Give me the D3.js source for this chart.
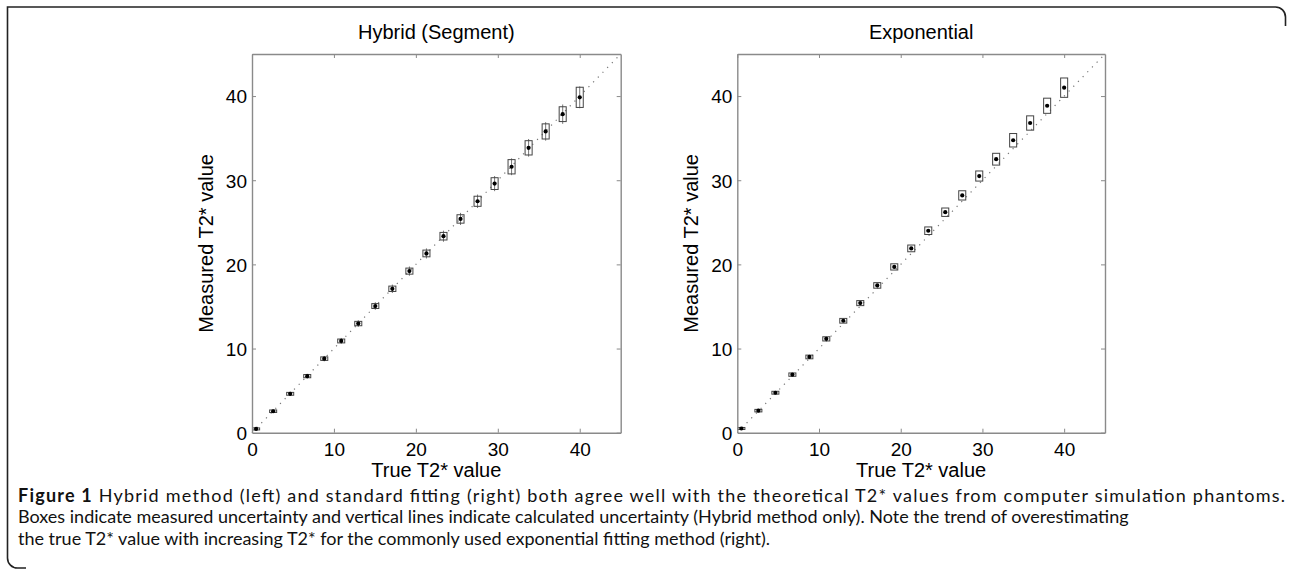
<!DOCTYPE html>
<html>
<head>
<meta charset="utf-8">
<script src="https://cdn.jsdelivr.net/npm/d3@7"></script>
<style>
  html, body { margin: 0; padding: 0; background: #fff; }
  svg { display: block; }
</style>
</head>
<body>
<svg id="chart" width="1292" height="574"></svg>
<script>
// ---- data ----
const trueT2 = [0.5, 2.58, 4.66, 6.74, 8.82, 10.89, 12.97, 15.05, 17.13, 19.21, 21.29, 23.37, 25.45, 27.53, 29.61, 31.68, 33.76, 35.84, 37.92, 40.0];
const hybridMeasured = [0.45, 2.55, 4.62, 6.72, 8.8, 10.9, 12.97, 15.05, 17.1, 19.2, 21.3, 23.35, 25.4, 27.5, 29.6, 31.6, 33.85, 35.8, 37.85, 39.85];
const hybridBoxHalf = [0.12, 0.15, 0.17, 0.19, 0.21, 0.23, 0.26, 0.29, 0.32, 0.36, 0.4, 0.45, 0.5, 0.6, 0.7, 0.85, 0.85, 0.9, 0.88, 1.2];
const hybridCalcHalf = [0.2, 0.22, 0.25, 0.28, 0.32, 0.36, 0.4, 0.45, 0.5, 0.55, 0.6, 0.66, 0.72, 0.8, 0.9, 1.0, 1.05, 1.1, 1.15, 1.3];
const expMeasured = [0.5, 2.62, 4.75, 6.9, 9.0, 11.15, 13.3, 15.4, 17.5, 19.7, 21.9, 24.0, 26.2, 28.2, 30.5, 32.5, 34.75, 36.8, 38.85, 41.0];
const expBoxHalf = [0.12, 0.15, 0.17, 0.2, 0.22, 0.25, 0.28, 0.3, 0.33, 0.37, 0.4, 0.45, 0.5, 0.55, 0.6, 0.7, 0.8, 0.85, 0.9, 1.15];
const tickValues = [0, 10, 20, 30, 40];
const axisDomain = [0, 45];
const panelTitles = ["Hybrid (Segment)", "Exponential"];
const xLabel = "True T2* value";
const yLabel = "Measured T2* value";
const captionLines = [
  ["Figure 1", " Hybrid method (left) and standard fitting (right) both agree well with the theoretical T2* values from computer simulation phantoms."],
  ["", "Boxes indicate measured uncertainty and vertical lines indicate calculated uncertainty (Hybrid method only). Note the trend of overestimating"],
  ["", "the true T2* value with increasing T2* for the commonly used exponential fitting method (right)."]
];

const svg = d3.select("#chart");
const FONT = "Liberation Sans, Arial, Helvetica, sans-serif";
const AXIS_COLOR = "#8a8a8a";

// frame border (journal style)
svg.append("path")
  .attr("d", "M1285.5,26 V17 A10,10 0 0 0 1275.5,7 H7.5 V558 A10,10 0 0 0 17.5,568 H26")
  .attr("fill", "none").attr("stroke", "#222").attr("stroke-width", 1.6);

const panels = [
  { x0: 252, x1: 620.7, measured: hybridMeasured, boxHalf: hybridBoxHalf, calcHalf: hybridCalcHalf, title: panelTitles[0] },
  { x0: 737.3, x1: 1105, measured: expMeasured, boxHalf: expBoxHalf, calcHalf: null, title: panelTitles[1] }
];
const yTop = 54, yBottom = 432.7;

panels.forEach(p => {
  const x = d3.scaleLinear().domain(axisDomain).range([p.x0, p.x1]);
  const y = d3.scaleLinear().domain(axisDomain).range([yBottom, yTop]);
  const g = svg.append("g");

  g.append("line")
    .attr("x1", x(0)).attr("y1", y(0)).attr("x2", x(45)).attr("y2", y(45))
    .attr("stroke", "#777").attr("stroke-width", 1.2).attr("stroke-dasharray", "1.2,5.5");

  const pts = trueT2.map((t, i) => ({ t, m: p.measured[i], b: p.boxHalf[i], c: p.calcHalf ? p.calcHalf[i] : null }));
  const bw = 0.43;

  if (p.calcHalf) {
    g.selectAll("line.calc").data(pts).enter().append("line")
      .attr("class", "calc")
      .attr("x1", d => x(d.t)).attr("x2", d => x(d.t))
      .attr("y1", d => y(d.m + d.c)).attr("y2", d => y(d.m - d.c))
      .attr("stroke", "#666").attr("stroke-width", 0.9);
  }
  g.selectAll("rect.box").data(pts).enter().append("rect")
    .attr("class", "box")
    .attr("x", d => x(d.t - bw)).attr("width", d => x(d.t + bw) - x(d.t - bw))
    .attr("y", d => y(d.m + d.b)).attr("height", d => y(d.m - d.b) - y(d.m + d.b))
    .attr("fill", "none").attr("stroke", "#444").attr("stroke-width", 1);
  g.selectAll("circle.mean").data(pts).enter().append("circle")
    .attr("class", "mean")
    .attr("cx", d => x(d.t)).attr("cy", d => y(d.m)).attr("r", 2.1)
    .attr("fill", "#000");

  const tickLen = 4;
  const axB = g.append("g").attr("transform", `translate(0,${yBottom})`)
    .call(d3.axisBottom(x).tickValues(tickValues).tickSizeInner(-tickLen).tickSizeOuter(0).tickPadding(6));
  const axT = g.append("g").attr("transform", `translate(0,${yTop})`)
    .call(d3.axisTop(x).tickValues(tickValues).tickSizeInner(-tickLen).tickSizeOuter(0).tickFormat(""));
  const axL = g.append("g").attr("transform", `translate(${p.x0},0)`)
    .call(d3.axisLeft(y).tickValues(tickValues).tickSizeInner(-tickLen).tickSizeOuter(0).tickPadding(5));
  const axR = g.append("g").attr("transform", `translate(${p.x1},0)`)
    .call(d3.axisRight(y).tickValues(tickValues).tickSizeInner(-tickLen).tickSizeOuter(0).tickFormat(""));
  [axB, axT, axL, axR].forEach(a => {
    a.select(".domain").attr("stroke", AXIS_COLOR).attr("stroke-width", 1.4);
    a.selectAll(".tick line").attr("stroke", AXIS_COLOR).attr("stroke-width", 1);
    a.selectAll("text").attr("font-family", FONT).attr("font-size", 19).attr("fill", "#000");
  });
  axB.selectAll("text").attr("dy", "0.9em");
  axL.selectAll("text").attr("dy", "0.36em");
  axB.selectAll(".tick").filter(d => d === 0).select("line").remove();
  axL.selectAll(".tick").filter(d => d === 0).select("line").remove();

  const cx = (p.x0 + p.x1) / 2;
  g.append("text").attr("x", cx).attr("y", 39.3).attr("text-anchor", "middle")
    .attr("font-family", FONT).attr("font-size", 20).text(p.title);
  g.append("text").attr("x", cx).attr("y", 476.7).attr("text-anchor", "middle")
    .attr("font-family", FONT).attr("font-size", 20).text(xLabel);
  g.append("text").attr("transform", `translate(${p.x0 - 39},${(yTop + yBottom) / 2}) rotate(-90)`)
    .attr("text-anchor", "middle")
    .attr("font-family", FONT).attr("font-size", 20).text(yLabel);
});

// caption: first line fitted to the frame width
const capBaselines = [501.5, 523, 544.5];
captionLines.forEach((ln, i) => {
  const t = svg.append("text").attr("x", 18).attr("y", capBaselines[i])
    .attr("font-family", "Lato, Noto Sans, sans-serif").attr("font-size", 18)
    .attr("fill", "#111");
  if (ln[0]) t.append("tspan").attr("font-weight", "bold").text(ln[0]);
  t.append("tspan").text(ln[1]);
  if (i === 0) t.attr("textLength", 1267).attr("lengthAdjust", "spacing");
});
</script>
</body>
</html>
